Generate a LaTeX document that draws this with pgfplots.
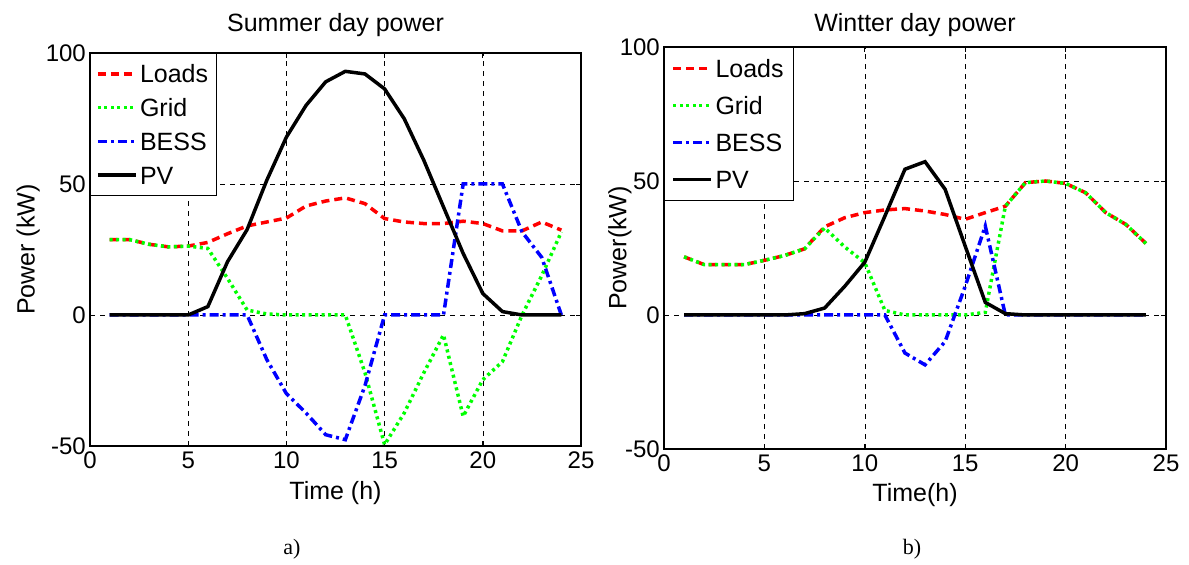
\documentclass[border=0pt]{standalone}
\usepackage{fontspec}
\setmainfont{Liberation Sans}
\newfontfamily\capfont{Liberation Serif}
\usepackage{pgfplots}
\pgfplotsset{compat=1.18}
\pgfplotstableread{
x loads grid bess pv
1 28.8 28.8 0 0
2 28.8 28.8 0 0
3 27.0 27.0 0 0
4 26.0 26.0 0 0
5 26.3 26.3 0 0
6 27.7 25.4 0 3.2
7 31.0 14.0 0 20.3
8 34.0 1.9 0 32.6
9 35.5 0.4 -17 51.4
10 37.0 0 -30 67.9
11 41.6 0 -37.4 80
12 43.5 0 -45.7 89
13 44.7 0 -47.6 93
14 42.5 -22 -27 92
15 36.8 -49.5 0 86.3
16 35.5 -37.4 0 74.9
17 34.9 -22 0 59
18 34.9 -7.6 0 41.2
19 35.8 -38.7 50 23.5
20 34.9 -24.7 50 8.2
21 32.1 -17.8 50 1.3
22 32.1 0 31.7 0
23 35.5 15 22 0
24 32.4 31.7 0 0
}\summer
\pgfplotstableread{
x loads grid bess pv
1 21.7 21.7 0 0
2 18.8 18.8 0 0
3 18.8 18.8 0 0
4 18.8 18.8 0 0
5 20.4 20.4 0 0
6 22.2 22.2 0 0
7 24.7 24.7 0 0.5
8 32.9 32.5 0 2.6
9 36.3 25.4 0 10.7
10 38.2 19.5 0 19.7
11 39.2 1.7 0 36.9
12 39.7 0 -14.2 54.4
13 38.8 0 -18.6 57.2
14 37.5 0 -9.9 46.9
15 35.7 0 10.7 25.7
16 38.2 1 33.2 4.7
17 40.6 40.6 0 0.5
18 49.4 49.4 0 0
19 50.0 50.0 0 0
20 49.1 49.1 0 0
21 45.6 45.6 0 0
22 38.2 38.2 0 0
23 33.8 33.8 0 0
24 26.7 26.7 0 0
}\winter
\pgfplotsset{
  mystyle/.style={
    scale only axis,
    xmin=0,xmax=25,ymin=-50,ymax=100,
    xtick={0,5,10,15,20,25}, ytick={-50,0,50,100},
    xticklabels={0,5,10,15,20,25}, yticklabels={-50,0,50,100},
    grid=major,
    major grid style={black, line width=0.6bp, dash pattern=on 5bp off 5bp},
    axis line style={line width=1.2bp},
    tick style={black, line width=0.8bp},
    major tick length=5bp,
    tick align=inside,
    ticklabel style={font=\fontsize{24bp}{26bp}\selectfont, inner sep=2bp},
    yticklabel style={xshift=-2bp},
    xticklabel style={yshift=-4bp},
    label style={font=\fontsize{25bp}{28bp}\selectfont},
    title style={font=\fontsize{25bp}{28bp}\selectfont, at={(0.5,1)}, anchor=base},
    legend style={at={(0,1)}, anchor=north west, draw=black, line width=1bp,
      font=\fontsize{25bp}{30bp}\selectfont, inner xsep=5.5bp, inner ysep=11.5bp, row sep=15.7bp,
      nodes={inner xsep=2.5bp, inner ysep=0bp, text height=18bp, text depth=0bp}},
    legend cell align=left,
    legend image code/.code={\draw[mark repeat=2,mark phase=2] plot coordinates {(0bp,0bp) (19bp,0bp) (38bp,0bp)};},
    every axis plot/.append style={line width=3.5bp},
  },
  loads/.style={red, dash pattern=on 8bp off 5bp},
  gridl/.style={green, dash pattern=on 3bp off 3.5bp},
  bess/.style={blue, dash pattern=on 9bp off 4bp on 3bp off 4bp},
  pvl/.style={black, solid},
}
\begin{document}
\begin{tikzpicture}
\useasboundingbox (0,0) rectangle (1189bp,565bp);
\begin{axis}[mystyle, at={(90bp,119bp)}, anchor=south west, width=491bp, height=393bp,
  title={Summer day power}, title style={yshift=16bp},
  xlabel={Time (h)}, ylabel={Power (kW)},
  xlabel style={at={(axis description cs:0.5,0)}, anchor=base, yshift=-53bp},
  ylabel style={at={(axis description cs:-0.126,0.5)}, anchor=center}]
\addplot[loads] table[x=x,y=loads]{\summer};
\addplot[gridl] table[x=x,y=grid]{\summer};
\addplot[bess] table[x=x,y=bess]{\summer};
\addplot[pvl] table[x=x,y=pv]{\summer};
\legend{Loads,Grid,BESS,PV}
\end{axis}
\begin{axis}[mystyle, at={(664bp,116bp)}, anchor=south west, width=502bp, height=402bp,
  title={Wintter day power}, title style={yshift=10bp},
  xlabel={Time(h)}, ylabel={Power(kW)},
  legend style={inner ysep=12bp, row sep=19bp, inner xsep=7bp},
  xlabel style={at={(axis description cs:0.5,0)}, anchor=base, yshift=-52bp},
  ylabel style={at={(axis description cs:-0.0877,0.5)}, anchor=center}]
\addplot[loads] table[x=x,y=loads]{\winter};
\addplot[gridl] table[x=x,y=grid]{\winter};
\addplot[bess] table[x=x,y=bess]{\winter};
\addplot[pvl] table[x=x,y=pv]{\winter};
\legend{Loads,Grid,BESS,PV}
\end{axis}
\node[font=\capfont\fontsize{22bp}{24bp}\selectfont] at (292bp,16bp) {a)};
\node[font=\capfont\fontsize{22bp}{24bp}\selectfont] at (912bp,16bp) {b)};
\end{tikzpicture}
\end{document}
